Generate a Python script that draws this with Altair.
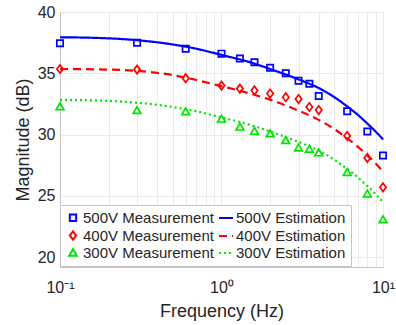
import altair as alt
import pandas as pd

# ---- data ----
freq_meas = [0.1, 0.3, 0.6, 1.0, 1.3, 1.6, 2.0, 2.5, 3.0, 3.5, 4.0, 6.0, 8.0, 10.0]
meas_500 = [37.45, 37.5, 37.0, 36.6, 36.2, 35.9, 35.45, 35.0, 34.4, 34.15, 33.15, 31.9, 30.25, 28.3]
meas_400 = [35.35, 35.3, 34.6, 34.0, 33.75, 33.6, 33.35, 33.05, 32.9, 32.25, 32.0, 29.9, 28.1, 25.7]
meas_300 = [32.3, 32.0, 31.9, 31.3, 30.65, 30.3, 30.1, 29.55, 28.95, 28.85, 28.55, 26.95, 25.2, 23.1]

freq_est = [0.1, 0.2, 0.3, 0.5, 0.7, 1.0, 1.5, 2.0, 3.0, 4.0, 5.0, 6.0, 7.0, 8.0, 9.0, 10.0]
est_500 = [37.94, 37.85, 37.7, 37.35, 37.0, 36.5, 35.9, 35.35, 34.5, 33.8, 33.05, 32.3, 31.6, 30.9, 30.25, 29.6]
est_400 = [35.35, 35.3, 35.2, 34.85, 34.45, 33.95, 33.35, 32.85, 31.95, 31.2, 30.45, 29.7, 29.0, 28.3, 27.65, 27.0]
est_300 = [32.83, 32.75, 32.6, 32.25, 31.9, 31.4, 30.8, 30.25, 29.4, 28.7, 27.95, 27.2, 26.5, 25.8, 25.15, 24.5]

# legend fills column by column: measurements left, estimations right
series = ["500V Measurement", "400V Measurement", "300V Measurement",
          "500V Estimation", "400V Estimation", "300V Estimation"]
colors = ["#0000ff", "#ff0000", "#00e400", "#0000ff", "#ff0000", "#00e400"]
shapes = ["square", "M-0.75,0L0,-1L0.75,0L0,1Z", "triangle-up", "stroke", "stroke", "stroke"]
dashes = [[1, 0], [1, 0], [1, 0], [1, 0], [8, 5], [2, 3]]
sizes = [40, 70, 60, 196, 196, 196]

x_ticks = [0.1, 0.2, 0.3, 0.4, 0.5, 0.6, 0.7, 0.8, 0.9,
           1, 2, 3, 4, 5, 6, 7, 8, 9, 10]
y_ticks = [20, 25, 30, 35, 40]

# ---- tables ----
meas_rows = []
for name, vals in [("500V Measurement", meas_500), ("400V Measurement", meas_400), ("300V Measurement", meas_300)]:
    for f, v in zip(freq_meas, vals):
        meas_rows.append({"f": f, "mag": v, "series": name})
est_rows = []
for name, vals in [("500V Estimation", est_500), ("400V Estimation", est_400), ("300V Estimation", est_300)]:
    for f, v in zip(freq_est, vals):
        est_rows.append({"f": f, "mag": v, "series": name})
meas_df = pd.DataFrame(meas_rows)
est_df = pd.DataFrame(est_rows)

FONT = "Liberation Sans"
TXT = "#262626"

x_enc = alt.X("f:Q",
              scale=alt.Scale(type="log", domain=[0.1, 10], nice=False),
              axis=alt.Axis(values=x_ticks, title="Frequency (Hz)",
                            labelExpr="datum.value == 0.1 ? '10⁻¹' : (datum.value == 1 ? '10⁰' : (datum.value == 10 ? '10¹' : ''))",
                            labelFlush=False, labelOverlap=False, ticks=False,
                            labelPadding=12, titlePadding=7))
y_enc = alt.Y("mag:Q",
              scale=alt.Scale(domain=[19.2, 40], nice=False, zero=False),
              axis=alt.Axis(values=y_ticks, title="Magnitude (dB)", ticks=False,
                            labelPadding=5, titlePadding=5))

legend = alt.Legend(title=None, orient="none", legendX=0, legendY=193, columns=2,
                    labelFont=FONT, labelFontSize=15, labelColor=TXT,
                    symbolStrokeWidth=2, padding=5, rowPadding=1, columnPadding=1,
                    labelOffset=2, fillColor="white", strokeColor="#c4c4c4")

color_enc = alt.Color("series:N", scale=alt.Scale(domain=series, range=colors), legend=legend)
shape_enc = alt.Shape("series:N", scale=alt.Scale(domain=series, range=shapes), legend=legend)
dash_enc = alt.StrokeDash("series:N", scale=alt.Scale(domain=series, range=dashes), legend=legend)
size_enc = alt.Size("series:N", scale=alt.Scale(type="ordinal", domain=series, range=sizes), legend=legend)

lines = alt.Chart(est_df).mark_line(strokeWidth=2.2, interpolate="monotone").encode(
    x=x_enc, y=y_enc, color=color_enc, strokeDash=dash_enc, detail="series:N"
)
points = alt.Chart(meas_df).mark_point(filled=False, strokeWidth=1.7, opacity=1).encode(
    x=x_enc, y=y_enc, color=color_enc, shape=shape_enc, size=size_enc
)

chart = alt.layer(lines, points).properties(
    width=323, height=255,
    padding={"left": 60, "top": 12, "right": 13, "bottom": 58},
    autosize=alt.AutoSizeParams(type="none"),
).configure_view(
    stroke="#c4c4c4", strokeWidth=1
).configure_axis(
    labelFont=FONT, titleFont=FONT, labelFontSize=16, titleFontSize=18,
    labelColor=TXT, titleColor=TXT, titleFontWeight="normal",
    domainColor="#c4c4c4", gridColor="#ebebeb", grid=True
)

chart.save("out.html", embed_options={"renderer": "svg", "actions": False})
